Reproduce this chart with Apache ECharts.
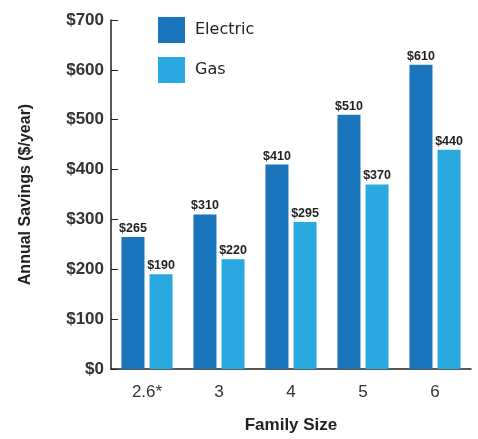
<!DOCTYPE html>
<html>
<head>
<meta charset="utf-8">
<script src="https://cdn.jsdelivr.net/npm/echarts@6/dist/echarts.min.js"></script>
<style>html,body{margin:0;padding:0;background:#fff;}#c{width:478px;height:439px;}</style>
</head>
<body>
<div id="c"></div>
<script>
var categories = ['2.6*', '3', '4', '5', '6'];
var electric = [265, 310, 410, 510, 610];
var gas = [190, 220, 295, 370, 440];
var yTicks = [0, 100, 200, 300, 400, 500, 600, 700];

var chart = echarts.init(document.getElementById('c'));
var labelStyle = {
  show: true, position: 'top', distance: 2,
  formatter: function (p) { return '$' + p.value; },
  fontFamily: 'Liberation Sans, Arial', fontWeight: 'bold',
  fontSize: 12.5, color: '#222'
};
chart.setOption({
  animation: false,
  grid: { left: 111, right: 7, top: 20, bottom: 60, containLabel: false },
  legend: {
    orient: 'vertical', left: 158, top: 17, padding: 0, itemWidth: 27, itemHeight: 26, itemGap: 14,
    icon: 'rect',
    textStyle: { fontFamily: 'DejaVu Sans, Liberation Sans', fontSize: 16, color: '#222', padding: [2, 0, 0, 5] },
    data: ['Electric', 'Gas']
  },
  xAxis: {
    type: 'category', data: categories,
    name: 'Family Size', nameLocation: 'middle', nameGap: 48,
    nameTextStyle: { fontFamily: 'Liberation Sans, Arial', fontWeight: 'bold', fontSize: 17, color: '#222' },
    axisLine: { lineStyle: { color: '#222', width: 1.5 } },
    axisTick: { inside: true, length: 9, lineStyle: { color: '#222' } },
    axisLabel: { fontFamily: 'Liberation Sans, Arial', fontSize: 17, color: '#333', margin: 15 }
  },
  yAxis: {
    type: 'value', min: 0, max: 700, interval: 100,
    name: 'Annual Savings ($/year)', nameLocation: 'middle', nameGap: 77, nameRotate: 90,
    nameTextStyle: { fontFamily: 'Liberation Sans, Arial', fontWeight: 'bold', fontSize: 16, color: '#222' },
    axisLine: { show: true, lineStyle: { color: '#222', width: 1.5 } },
    axisTick: { show: true, inside: true, length: 7, lineStyle: { color: '#222' } },
    splitLine: { show: false },
    axisLabel: {
      fontFamily: 'Liberation Sans, Arial', fontSize: 17, fontWeight: 'bold', color: '#333', margin: 7,
      formatter: function (v) { return yTicks.indexOf(v) >= 0 ? '$' + v : ''; }
    }
  },
  series: [
    { name: 'Electric', type: 'bar', data: electric, barWidth: 23, barGap: '22%',
      itemStyle: { color: '#1b75bc' }, label: labelStyle },
    { name: 'Gas', type: 'bar', data: gas, barWidth: 23,
      itemStyle: { color: '#2aa9e0' }, label: labelStyle }
  ]
});
</script>
</body>
</html>
